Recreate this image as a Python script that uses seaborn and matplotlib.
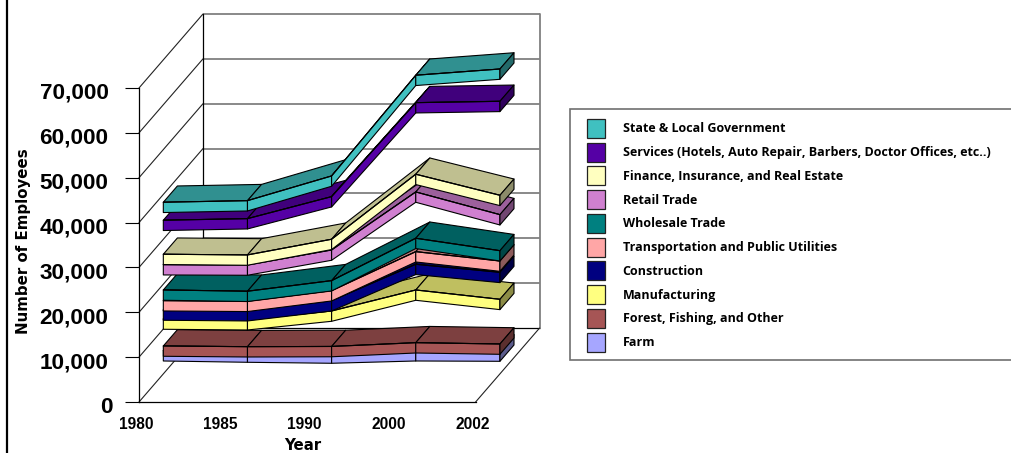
import numpy as np
import pandas as pd
import matplotlib
matplotlib.use("Agg")
import matplotlib.pyplot as plt
import seaborn as sns
from matplotlib.colors import to_rgb
from matplotlib.lines import Line2D
from matplotlib.patches import Patch, Polygon, Rectangle
from matplotlib.transforms import ScaledTranslation

years = ["1980", "1985", "1990", "2000", "2002"]
farm = [5170, 4880, 4660, 5170, 5100]
forest = [1050, 1180, 1450, 1780, 1560]
manufacturing = [6020, 6020, 7910, 11750, 9960]
construction = [2010, 2010, 2300, 5730, 6020]
transport = [2070, 2100, 2230, 2810, 2520]
wholesale = [2390, 2230, 2230, 2990, 2300]
retail = [5640, 5860, 6840, 10320, 8030]
finance = [2320, 2230, 2390, 3950, 4320]
services = [7580, 8090, 9500, 15960, 20950]
state_local = [4010, 4010, 4610, 6110, 7200]

names = ["Farm", "Forest, Fishing, and Other", "Manufacturing", "Construction",
         "Transportation and Public Utilities", "Wholesale Trade", "Retail Trade",
         "Finance, Insurance, and Real Estate",
         "Services (Hotels, Auto Repair, Barbers, Doctor Offices, etc..)",
         "State & Local Government"]
colors = ["#A6A6FF", "#A65555", "#FFFF80", "#000080", "#FFA6A6",
          "#008080", "#D080D0", "#FFFFC0", "#5500A5", "#40C0C0"]
yticks = [0, 10000, 20000, 30000, 40000, 50000, 60000, 70000]

# scales of the oblique projection
PX_X, PX_Y = 84.15, 0.004486
DX, DY = 64 / PX_X, 74 / PX_Y
F1, F2 = 0.38, 0.60
THICK = 10.3 / PX_Y


def proj(i, v, f):
    return np.asarray(i, float) + f * DX, np.asarray(v, float) + f * DY


sns.set_theme(style="white")
plt.rcParams["font.family"] = ["Liberation Sans", "DejaVu Sans"]
fig = plt.figure(figsize=(10.11, 4.53), dpi=100)
ax = fig.add_axes([0, 0, 1, 1])
ax.patch.set_alpha(0)

x = np.arange(len(years))
table = pd.DataFrame(
    np.cumsum([farm, forest, manufacturing, construction, transport, wholesale,
               retail, finance, services, state_local], axis=0),
    index=names, columns=years)

# walls
gx0, gx1 = 0, len(years) - 1
for v in yticks:
    px, py = proj([gx0, gx1], [v, v], 1)
    ax.plot(px, py, color="black" if v == 0 else "#808080",
            lw=0.9 if v == 0 else 1.3, zorder=1, solid_capstyle="butt")
    px, py = proj([gx0, gx0], [v, v], np.array([0, 1]))
    ax.plot(px, py, color="#222222", lw=0.8, zorder=1)
px, py = proj([gx0, gx0], [0, yticks[-1]], 1)
ax.plot(px, py, color="black", lw=0.9, zorder=1)
px, py = proj([gx1, gx1], [0, yticks[-1]], 1)
ax.plot(px, py, color="#808080", lw=1.3, zorder=1)
px, py = proj([gx1, gx1], [0, 0], np.array([0, 1]))
ax.plot(px, py, color="#222222", lw=0.8, zorder=1)

# ribbons
edge = dict(edgecolor="black", linewidth=0.8, joinstyle="round")
for k, name in enumerate(names):
    vals = table.loc[name].to_numpy(float)
    base = to_rgb(colors[k])
    top_c = tuple(c * 0.75 for c in base)
    side_c = tuple(c * 0.55 for c in base)
    z = 5 + k
    for j in range(len(x) - 1):
        xa, ya = proj([x[j], x[j + 1]], vals[j:j + 2], F1)
        xb, yb = proj([x[j], x[j + 1]], vals[j:j + 2], F2)
        ax.add_patch(Polygon(np.c_[np.r_[xa, xb[::-1]], np.r_[ya, yb[::-1]]],
                             facecolor=top_c, zorder=z, **edge))
    for j in range(len(x) - 1):
        xa, ya = proj([x[j], x[j + 1]], vals[j:j + 2], F1)
        _, yl = proj([x[j], x[j + 1]], vals[j:j + 2] - THICK, F1)
        ax.add_patch(Polygon(np.c_[np.r_[xa, xa[::-1]], np.r_[ya, yl[::-1]]],
                             facecolor=base, zorder=z + 0.1, **edge))
    xa, ya = proj(x[-1], vals[-1], F1)
    xb, yb = proj(x[-1], vals[-1], F2)
    ax.add_patch(Polygon([(xa, ya), (xb, yb), (xb, yb - THICK), (xa, ya - THICK)],
                         facecolor=side_c, zorder=z + 0.1, **edge))
    fx, fy = proj(x, vals, F1)
    sns.lineplot(x=fx, y=fy, color="black", linewidth=0.8, estimator=None,
                 sort=False, ax=ax, zorder=z + 0.2)

# axes mapped onto the figure
ax.set_xlim(-139 / PX_X, (1011 - 139) / PX_X)
ax.set_ylim(-(453 - 402) / PX_Y, 402 / PX_Y)
for s in ["top", "right"]:
    ax.spines[s].set_visible(False)
ax.spines["left"].set_position(("data", 0))
ax.spines["bottom"].set_position(("data", 0))
ax.spines["left"].set_bounds(0, yticks[-1])
ax.spines["bottom"].set_bounds(0, len(years) - 1)
for s in ["left", "bottom"]:
    ax.spines[s].set_color("black")
    ax.spines[s].set_linewidth(0.9)
    ax.spines[s].set_zorder(2)

ax.set_xticks(x)
ax.set_xticklabels(years, fontsize=11.2, fontweight="bold", color="black")
ax.set_yticks(yticks)
ax.set_yticklabels([f"{v:,}" for v in yticks], fontsize=16.2, fontweight="bold", color="black")
ax.tick_params(axis="x", length=0, pad=11)
ax.tick_params(axis="y", length=10, width=0.8, color="black", left=True, pad=12)
for lab in ax.get_xticklabels():
    lab.set_transform(lab.get_transform() + ScaledTranslation(-3 / 100, 0, fig.dpi_scale_trans))
for lab, v in zip(ax.get_yticklabels(), yticks):
    shift = 4 if v == 0 else 0
    lab.set_transform(lab.get_transform() + ScaledTranslation(shift / 100, -3 / 100, fig.dpi_scale_trans))

ax.set_xlabel("Year", fontsize=10.8, fontweight="bold", color="black", va="center",
              family="DejaVu Sans")
ax.xaxis.set_label_coords(303 / 1011, 1 - 445.5 / 453)
ax.set_ylabel("Number of Employees", fontsize=10.8, fontweight="bold", color="black", va="center",
              family="DejaVu Sans")
ax.yaxis.set_label_coords(24 / 1011, 1 - 241.5 / 453)

# figure furniture
fig.add_artist(Line2D([6.5 / 1011, 6.5 / 1011], [0, 1], color="black", lw=1.6))
ax.add_patch(Rectangle((569.5 / 1011, 1 - 360 / 453), 460 / 1011, 251.5 / 453,
                       transform=ax.transAxes, facecolor="white", edgecolor="#707070",
                       linewidth=1.2, zorder=20))
fs = 9.0
fpx = fs * 100 / 72
handles = [Patch(facecolor=c, edgecolor="#222222", linewidth=0.9, label=n)
           for n, c in zip(names[::-1], colors[::-1])]
leg = ax.legend(handles=handles, loc="upper left", frameon=False,
                bbox_to_anchor=(587.3 / 1011, 1 - 118.8 / 453),
                bbox_transform=ax.transAxes, borderpad=0, borderaxespad=0,
                handlelength=18 / fpx, handleheight=24.5 / fpx,
                labelspacing=4.78 / fpx, handletextpad=17.4 / fpx,
                prop={"size": fs, "weight": "bold", "family": "Open Sans"})
leg.set_zorder(21)
for t in leg.get_texts():
    t.set_color("black")

fig.savefig("out.png", dpi=100)
